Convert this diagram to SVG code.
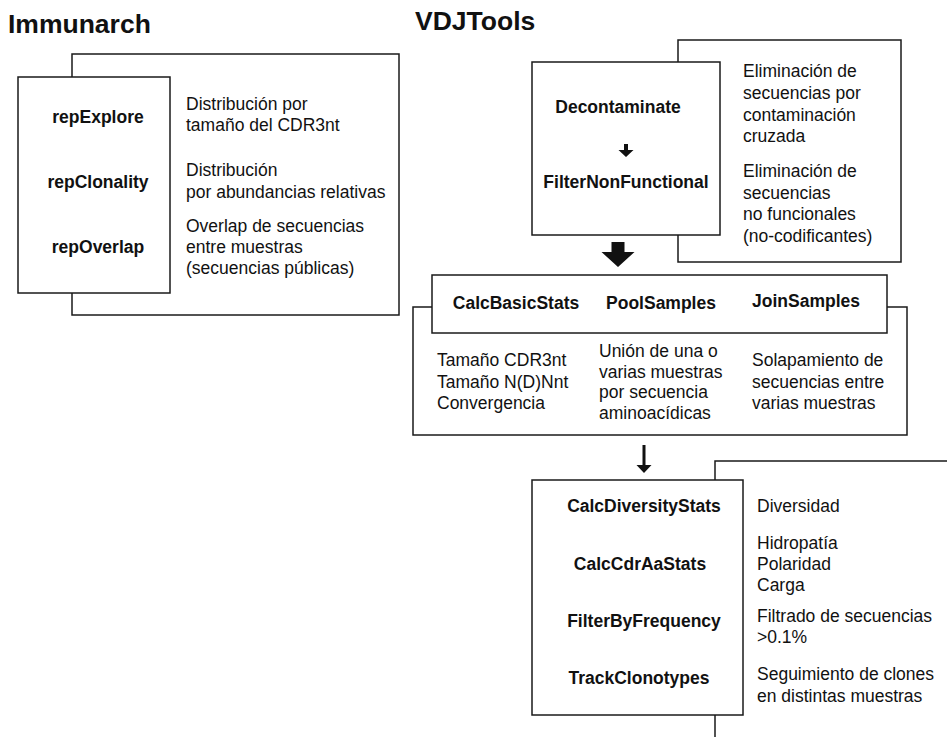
<svg xmlns="http://www.w3.org/2000/svg" width="947" height="737" viewBox="0 0 947 737">
<style>
.bx{fill:#fff;stroke:#1a1a1a;stroke-width:1.5}
.t{font-family:"Liberation Sans",Arial,sans-serif;font-size:17.5px;fill:#111}
.b{font-family:"Liberation Sans",Arial,sans-serif;font-size:17.5px;font-weight:bold;fill:#111;text-anchor:middle}
.h{font-family:"Liberation Sans",Arial,sans-serif;font-size:26.5px;font-weight:bold;fill:#111}
.ar{fill:#111}
</style>
<rect width="947" height="737" fill="#fff"/>
<text class="h" x="8" y="33">Immunarch</text>
<text class="h" x="415" y="30">VDJTools</text>

<g id="immunarch">
<rect class="bx" x="72" y="54" width="327" height="261"/>
<rect class="bx" x="18" y="77" width="152" height="216"/>
<text class="b" x="98" y="123">repExplore</text>
<text class="b" x="98" y="188">repClonality</text>
<text class="b" x="98" y="253">repOverlap</text>
<text class="t" x="186" y="110">Distribución por</text>
<text class="t" x="186" y="131">tamaño del CDR3nt</text>
<text class="t" x="186" y="176">Distribución</text>
<text class="t" x="186" y="198">por abundancias relativas</text>
<text class="t" x="186" y="232">Overlap de secuencias</text>
<text class="t" x="186" y="253">entre muestras</text>
<text class="t" x="186" y="274">(secuencias públicas)</text>
</g>

<g id="filters">
<rect class="bx" x="678" y="40" width="223" height="222"/>
<rect class="bx" x="532" y="62" width="188" height="173"/>
<text class="b" x="618" y="113">Decontaminate</text>
<text class="b" x="626" y="188">FilterNonFunctional</text>
<text class="t" x="743" y="77">Eliminación de</text>
<text class="t" x="743" y="99">secuencias por</text>
<text class="t" x="743" y="121">contaminación</text>
<text class="t" x="743" y="142">cruzada</text>
<text class="t" x="743" y="177">Eliminación de</text>
<text class="t" x="743" y="199">secuencias</text>
<text class="t" x="743" y="220">no funcionales</text>
<text class="t" x="743" y="242">(no-codificantes)</text>
</g>

<g id="basic">
<rect class="bx" x="413" y="307" width="494" height="128"/>
<rect class="bx" x="432" y="275" width="455" height="58"/>
<text class="b" x="516" y="309">CalcBasicStats</text>
<text class="b" x="661" y="309">PoolSamples</text>
<text class="b" x="806" y="307">JoinSamples</text>
<text class="t" x="437" y="366">Tamaño CDR3nt</text>
<text class="t" x="437" y="388">Tamaño N(D)Nnt</text>
<text class="t" x="437" y="409">Convergencia</text>
<text class="t" x="599" y="357">Unión de una o</text>
<text class="t" x="599" y="378">varias muestras</text>
<text class="t" x="599" y="398">por secuencia</text>
<text class="t" x="599" y="419">aminoacídicas</text>
<text class="t" x="752" y="366">Solapamiento de</text>
<text class="t" x="752" y="388">secuencias entre</text>
<text class="t" x="752" y="409">varias muestras</text>
</g>

<g id="advanced">
<rect class="bx" x="715" y="461" width="300" height="320"/>
<rect class="bx" x="532" y="480" width="211" height="235"/>
<text class="b" x="644" y="512">CalcDiversityStats</text>
<text class="b" x="640" y="570">CalcCdrAaStats</text>
<text class="b" x="644" y="627">FilterByFrequency</text>
<text class="b" x="639" y="684">TrackClonotypes</text>
<text class="t" x="757" y="512">Diversidad</text>
<text class="t" x="757" y="549">Hidropatía</text>
<text class="t" x="757" y="570">Polaridad</text>
<text class="t" x="757" y="591">Carga</text>
<text class="t" x="757" y="622">Filtrado de secuencias</text>
<text class="t" x="757" y="643">&gt;0.1%</text>
<text class="t" x="757" y="680">Seguimiento de clones</text>
<text class="t" x="757" y="702">en distintas muestras</text>
</g>

<g id="connectors">
<polygon class="ar" points="624,144 628,144 628,150 633.5,150 626,157 618.5,150 624,150"/>
<polygon class="ar" points="611.5,242 624.5,242 624.5,252 634.5,252 618,267 601.5,252 611.5,252"/>
<polygon class="ar" points="642.5,445 645.5,445 645.5,465 651.5,465 644,473 636.5,465 642.5,465"/>
</g>
</svg>
